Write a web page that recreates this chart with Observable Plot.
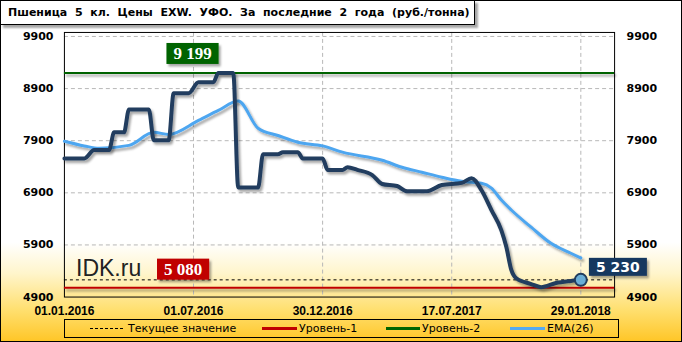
<!DOCTYPE html>
<html><head><meta charset="utf-8">
<script src="https://cdn.jsdelivr.net/npm/d3@7"></script>
<script src="https://cdn.jsdelivr.net/npm/@observablehq/plot@0.6"></script>
<style>
html,body{margin:0;padding:0;background:#fff}
#wrap{position:relative;width:682px;height:342px;box-sizing:border-box;border:1px solid #000;overflow:hidden;
background:linear-gradient(to bottom,#fff 0%,#fff 71%,#fff5cc 80%,#ffdf6e 91%,#ffc628 100%);}
#chart{position:absolute;left:-1px;top:-1px}
#title{position:absolute;left:-1px;top:-1px;width:475px;height:25px;background:#fff;border:1px solid #000;box-shadow:3px 3px 2px rgba(0,0,0,.35);font:bold 11px "DejaVu Sans";white-space:pre;line-height:24px;padding-left:7px;box-sizing:border-box;color:#000}
#wm{position:absolute;left:75px;top:254px;font:23px "Liberation Sans";color:#222}
#legend{position:absolute;left:63px;top:318px;width:555px;height:19px;border:1px solid #000;box-sizing:border-box}
.lt{position:absolute;top:320px;font:11px "DejaVu Sans";color:#000;line-height:16px;white-space:pre}
.ls{position:absolute;top:327px;height:0}
</style></head>
<body>
<div id="wrap">
  <div id="chart"></div>
  <div id="title">Пшеница  5  кл.  Цены  EXW.  УФО.  За  последние  2  года  (руб./тонна)</div>
  <div id="wm">IDK.ru</div>
  <div id="legend"></div>
  <div class="ls" style="left:89px;width:33px;border-top:1px dashed #000"></div>
  <div class="lt" style="left:127px">Текущее значение</div>
  <div class="ls" style="left:261px;top:326px;width:35px;border-top:3px solid #c00000"></div>
  <div class="lt" style="left:298px">Уровень-1</div>
  <div class="ls" style="left:385px;top:326px;width:34px;border-top:3px solid #006400"></div>
  <div class="lt" style="left:421px">Уровень-2</div>
  <div class="ls" style="left:509px;top:326px;width:35px;border-top:3px solid #55aaf0"></div>
  <div class="lt" style="left:546px">EMA(26)</div>
</div>
<script>
// x positions are week indices; ticks labelled with dates
const tickWeeks = [0, 26, 52, 78, 104];
const tickLabels = ["01.01.2016", "01.07.2016", "30.12.2016", "17.07.2017", "29.01.2018"];
const yTicks = [4900, 5900, 6900, 7900, 8900, 9900];

const priceWeeks = [0,4,6,9,10,12,13,17,18,21,22,25,27,30,31,34,35,39,40,43,44,47,48,52,53,56,57,59,62,64,67,69,73,76,80,82,84,86,88,89,90,91,94,96,99,102,104];
const priceValues = [7560,7560,7720,7720,8060,8060,8500,8500,7910,7910,8810,8810,9020,9020,9199,9199,7000,7000,7640,7640,7680,7680,7560,7560,7340,7340,7390,7340,7240,7070,7030,6930,6930,7050,7090,7180,6950,6570,6180,5860,5420,5260,5150,5090,5170,5210,5230];

const emaWeeks = [0,4,7,13,18,21,27,31,35,39,43,47,52,56,64,68,72,76,80,84,86,88,90,94,98,102,104];
const emaValues = [7890,7800,7755,7810,8060,8020,8290,8480,8660,8140,8000,7870,7800,7680,7525,7390,7295,7200,7120,7085,6990,6760,6570,6240,5930,5740,5650];

const level1 = 5080;
const level2 = 9199;
const current = 5230;

const price = priceWeeks.map((w, i) => ({w, v: priceValues[i]}));
const ema = emaWeeks.map((w, i) => ({w, v: emaValues[i]}));
const last = price[price.length - 1];
const fmt = d => d3.format(",")(d).replace(/,/g, " ");

const grid = {stroke: "#b8b8b8", strokeOpacity: 1, strokeDasharray: "4,3"};
const axisFont = {fontSize: 11, fontWeight: "bold", fontFamily: "DejaVu Sans", fill: "#000"};

const chart = Plot.plot({
  width: 682, height: 342,
  marginLeft: 64, marginRight: 67, marginTop: 32, marginBottom: 45,
  x: {domain: [0, 110.8], axis: null},
  y: {domain: [4900, 9977], axis: null},
  style: {background: "transparent", overflow: "visible"},
  marks: [
    Plot.gridY(yTicks.slice(1), grid),
    Plot.gridX(tickWeeks.slice(1), grid),
    Plot.frame({stroke: "#000", strokeWidth: 1}),
    Plot.ruleY([level2], {stroke: "#006400", strokeWidth: 2, ariaDescription: "shadow"}),
    Plot.ruleY([level1], {stroke: "#c00000", strokeWidth: 2, ariaDescription: "shadow"}),
    Plot.ruleY([current], {stroke: "#000", strokeWidth: 1, strokeDasharray: "3,3"}),
    Plot.line(ema, {x: "w", y: "v", stroke: "#4ea6f0", strokeWidth: 3, curve: "monotone-x", ariaDescription: "shadow"}),
    Plot.line(price, {x: "w", y: "v", stroke: "#213d5e", strokeWidth: 4, curve: "monotone-x", strokeLinejoin: "round", ariaDescription: "shadow"}),
    Plot.dot([last], {x: "w", y: "v", r: 6, fill: "#6aaed6", stroke: "#213d5e", strokeWidth: 2}),
    Plot.text([level2], {x: () => 25.8, y: d => d, dy: -19.5, text: fmt, fill: "#fff", fontSize: 17, fontWeight: "bold", fontFamily: "Liberation Serif", ariaDescription: "box-006400"}),
    Plot.text([level1], {x: () => 23.9, y: d => d, dy: -18.5, text: fmt, fill: "#fff", fontSize: 17, fontWeight: "bold", fontFamily: "Liberation Serif", ariaDescription: "box-c00000"}),
    Plot.text([last], {x: "w", y: "v", dx: 37, dy: -12.5, text: d => fmt(d.v), fill: "#fff", fontSize: 14, fontWeight: "bold", fontFamily: "DejaVu Sans", ariaDescription: "box-17375e"}),
    Plot.axisY(yTicks, {anchor: "left", label: null, tickSize: 0, tickPadding: 11, tickFormat: d => String(d), ...axisFont}),
    Plot.axisY(yTicks, {anchor: "right", label: null, tickSize: 0, tickPadding: 12, tickFormat: d => String(d), ...axisFont}),
    Plot.axisX(tickWeeks, {anchor: "bottom", label: null, tickSize: 0, tickPadding: 9, tickFormat: d => tickLabels[tickWeeks.indexOf(d)], fontSize: 12, fontWeight: "bold", fontFamily: "Liberation Sans", fill: "#000"})
  ]
});
document.getElementById("chart").appendChild(chart);

const svg = d3.select(chart);
const defs = svg.insert("defs", ":first-child");
defs.append("filter").attr("id", "sh").attr("filterUnits", "userSpaceOnUse")
  .attr("x", -50).attr("y", -50).attr("width", 800).attr("height", 450)
  .append("feDropShadow").attr("dx", 2).attr("dy", 2.5).attr("stdDeviation", 1.3)
  .attr("flood-color", "#000").attr("flood-opacity", 0.35);
svg.selectAll("g[aria-description='shadow']").attr("filter", "url(#sh)");
svg.selectAll("g[aria-description^='box-']").each(function() {
  const g = d3.select(this);
  const color = "#" + g.attr("aria-description").slice(4);
  g.selectAll("text").each(function() {
    const b = this.getBBox();
    const t = this.getAttribute("transform");
    const r = d3.select(this.parentNode).insert("rect", () => this)
      .attr("x", b.x - 7).attr("y", b.y - 1).attr("width", b.width + 14).attr("height", b.height + 2)
      .attr("fill", color).attr("filter", "url(#sh)");
    if (t) r.attr("transform", t);
  });
});
</script>
</body></html>
